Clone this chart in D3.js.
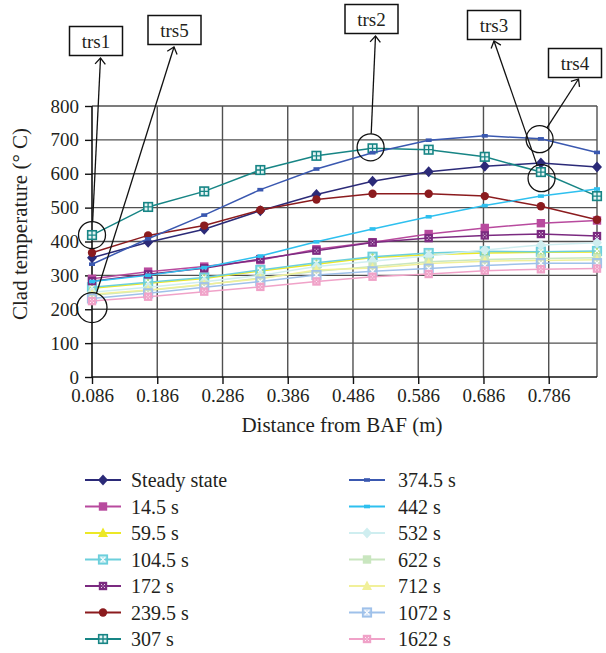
<!DOCTYPE html>
<html>
<head>
<meta charset="utf-8">
<script src="https://cdn.jsdelivr.net/npm/d3@7"></script>
<style>
  body { margin: 0; background: #fff; }
  svg { display: block; }
  text { font-family: "Liberation Serif", "Times New Roman", serif; fill: #231f20; }
</style>
</head>
<body>
<svg id="chart" width="606" height="653"></svg>
<script>
// Axial positions of the cladding nodes (m from the bottom of active fuel)
const distance = [0.086, 0.172, 0.258, 0.344, 0.43, 0.516, 0.602, 0.688, 0.774, 0.86];

// Axis ticks
const xTickValues = [0.086, 0.186, 0.286, 0.386, 0.486, 0.586, 0.686, 0.786];
const yTickValues = [0, 100, 200, 300, 400, 500, 600, 700, 800];

// Series labels (time after transient start)
const seriesLabels = ["Steady state", "14.5 s", "59.5 s", "104.5 s", "172 s", "239.5 s", "307 s",
                      "374.5 s", "442 s", "532 s", "622 s", "712 s", "1072 s", "1622 s"];

// Clad temperature (°C) along the rod for each time
const steadyState = [352, 398, 436, 491, 539, 578, 606, 622, 632, 620];
const t14_5   = [290, 311, 326, 345, 377, 398, 422, 440, 454, 462];
const t59_5   = [262, 277, 291, 313, 333, 353, 361, 366, 368, 369];
const t104_5  = [265, 280, 294, 316, 337, 355, 366, 371, 370, 372];
const t172    = [283, 303, 321, 348, 373, 397, 410, 418, 422, 416];
const t239_5  = [367, 418, 447, 493, 524, 541, 541, 534, 504, 464];
const t307    = [419, 502, 548, 611, 653, 675, 671, 650, 605, 534];
const t374_5  = [333, 408, 478, 553, 614, 662, 699, 712, 703, 663];
const t442    = [282, 300, 323, 357, 399, 437, 473, 506, 534, 555];
const t532    = [250, 265, 281, 300, 326, 342, 358, 375, 390, 396];
const t622    = [241, 255, 272, 292, 312, 326, 340, 347, 350, 352];
const t712    = [244, 257, 273, 290, 316, 322, 335, 342, 344, 346];
const t1072   = [232, 247, 265, 282, 301, 312, 320, 329, 336, 336];
const t1622   = [224, 237, 252, 266, 282, 296, 304, 314, 318, 320];

const seriesValues = [steadyState, t14_5, t59_5, t104_5, t172, t239_5, t307,
                      t374_5, t442, t532, t622, t712, t1072, t1622];

// Callout labels and the points they mark
const calloutLabels = ["trs1", "trs5", "trs2", "trs3", "trs4"];
const calloutX = [0.086, 0.086, 0.513, 0.775, 0.772];
const calloutY = [419, 205, 678, 587, 702];

// ---- presentation ----
const seriesStyles = [
  { color: "#2b2a78", marker: "diamond" },
  { color: "#b84a9e", marker: "square" },
  { color: "#ece826", marker: "triangle" },
  { color: "#6ccfdc", marker: "squareX" },
  { color: "#7b2a80", marker: "squareDots" },
  { color: "#8b1b1e", marker: "circle" },
  { color: "#178585", marker: "squarePlus" },
  { color: "#3a58b0", marker: "dash" },
  { color: "#2ec0ef", marker: "dash" },
  { color: "#cfeef0", marker: "diamond" },
  { color: "#c9e6bf", marker: "square" },
  { color: "#f1f09a", marker: "triangle" },
  { color: "#9fc1ea", marker: "squareX" },
  { color: "#f0a2c8", marker: "squareDots" }
];

const calloutLayout = [
  { box: [96, 41],  tip: [100.5, 58], r: 13.5 },
  { box: [174.5, 30], tip: [174, 47], r: 15 },
  { box: [371.5, 19], tip: [375.5, 36], r: 13.5 },
  { box: [494, 25], tip: [494, 41], r: 13.5 },
  { box: [575, 63], tip: [578.5, 79], r: 13.5 }
];

const svg = d3.select("#chart");
const plot = { left: 92, right: 597, top: 106, bottom: 377 };

const x = d3.scaleLinear().domain([0.086, 0.86]).range([plot.left, plot.right]);
const y = d3.scaleLinear().domain([0, 800]).range([plot.bottom, plot.top]);

// Grid
const grid = svg.append("g").attr("stroke", "#505050").attr("stroke-width", 1.4).attr("fill", "none");
grid.selectAll("line.h").data(yTickValues.filter(v => v > 0)).join("line")
  .attr("x1", plot.left).attr("x2", plot.right)
  .attr("y1", d => y(d)).attr("y2", d => y(d));
grid.selectAll("line.v").data(xTickValues.filter(v => v > 0.086)).join("line")
  .attr("x1", d => x(d)).attr("x2", d => x(d))
  .attr("y1", plot.top).attr("y2", plot.bottom);
grid.append("line").attr("x1", plot.right).attr("x2", plot.right)
  .attr("y1", plot.top).attr("y2", plot.bottom);

// Axes
const yAxis = svg.append("g").attr("transform", `translate(${plot.left},0)`)
  .call(d3.axisLeft(y).tickValues(yTickValues).tickFormat(d3.format("d")).tickSize(7).tickPadding(6));
const xAxis = svg.append("g").attr("transform", `translate(0,${plot.bottom})`)
  .call(d3.axisBottom(x).tickValues(xTickValues).tickFormat(d3.format(".3f")).tickSize(7).tickPadding(5));
[yAxis, xAxis].forEach(a => {
  a.select(".domain").attr("stroke", "#111").attr("stroke-width", 1.6);
  a.selectAll(".tick line").attr("stroke", "#111").attr("stroke-width", 1.4);
  a.selectAll(".tick text").attr("font-size", 19).attr("font-family", "Liberation Serif").attr("fill", "#231f20");
});
xAxis.select(".domain").attr("d", `M${plot.left},0H${plot.right}`);
yAxis.select(".domain").attr("d", `M0,${plot.bottom}V${plot.top}`);

// Axis titles
svg.append("text")
  .attr("transform", `translate(27,224) rotate(-90)`)
  .attr("text-anchor", "middle").attr("font-size", 21)
  .text("Clad temperature (° C)");
svg.append("text")
  .attr("x", 342).attr("y", 432)
  .attr("text-anchor", "middle").attr("font-size", 21)
  .text("Distance from BAF (m)");

// Marker factory
function drawMarker(g, type, color) {
  switch (type) {
    case "diamond":
      g.append("path").attr("d", "M0,-5.5L5,0L0,5.5L-5,0Z").attr("fill", color);
      break;
    case "square":
      g.append("rect").attr("x", -4.2).attr("y", -4.2).attr("width", 8.4).attr("height", 8.4).attr("fill", color);
      break;
    case "triangle":
      g.append("path").attr("d", "M0,-5.5L5,4L-5,4Z").attr("fill", color);
      break;
    case "circle":
      g.append("circle").attr("r", 4.2).attr("fill", color);
      break;
    case "dash":
      g.append("rect").attr("x", -3).attr("y", -1.8).attr("width", 6).attr("height", 3.6).attr("fill", color);
      break;
    case "squareX":
      g.append("rect").attr("x", -4.2).attr("y", -4.2).attr("width", 8.4).attr("height", 8.4)
        .attr("fill", color).attr("fill-opacity", 0.45).attr("stroke", color).attr("stroke-width", 1.8);
      g.append("path").attr("d", "M-2.2,-2.2L2.2,2.2M2.2,-2.2L-2.2,2.2").attr("stroke", "#fff").attr("stroke-width", 1.1);
      break;
    case "squareDots":
      g.append("rect").attr("x", -4.2).attr("y", -4.2).attr("width", 8.4).attr("height", 8.4).attr("fill", color);
      g.append("path").attr("d", "M-2,-2h1v1h-1zM1,-2h1v1h-1zM-2,1h1v1h-1zM1,1h1v1h-1zM-0.5,-0.5h1v1h-1z")
        .attr("fill", "#fff").attr("fill-opacity", 0.8);
      break;
    case "squarePlus":
      g.append("rect").attr("x", -4.3).attr("y", -4.3).attr("width", 8.6).attr("height", 8.6)
        .attr("fill", "#e6f4f4").attr("stroke", color).attr("stroke-width", 1.6);
      g.append("path").attr("d", "M0,-4.3V4.3M-4.3,0H4.3").attr("stroke", color).attr("stroke-width", 1.3);
      break;
  }
}

// Series lines and markers
const line = d3.line().x((d, i) => x(distance[i])).y(d => y(d));
seriesValues.forEach((vals, si) => {
  const st = seriesStyles[si];
  const g = svg.append("g");
  g.append("path").attr("d", line(vals)).attr("fill", "none")
    .attr("stroke", st.color).attr("stroke-width", 1.5);
  g.selectAll("g.pt").data(vals).join("g")
    .attr("transform", (d, i) => `translate(${x(distance[i])},${y(d)})`)
    .each(function () { drawMarker(d3.select(this), st.marker, st.color); });
});

// Callouts: circle around the point, arrow up to a boxed label
const ann = svg.append("g").attr("fill", "none").attr("stroke", "#111").attr("stroke-width", 1.3);
calloutLabels.forEach((lab, i) => {
  const lay = calloutLayout[i];
  const cx = x(calloutX[i]), cy = y(calloutY[i]);
  ann.append("circle").attr("cx", cx).attr("cy", cy).attr("r", lay.r);
  const [tx, ty] = lay.tip;
  const ang = Math.atan2(ty - cy, tx - cx);
  const sx = cx + lay.r * Math.cos(ang), sy = cy + lay.r * Math.sin(ang);
  ann.append("line").attr("x1", sx).attr("y1", sy).attr("x2", tx).attr("y2", ty);
  const back = ang + Math.PI, arm = 8, spread = 0.7;
  ann.append("path").attr("d",
    `M${tx + arm * Math.cos(back - spread)},${ty + arm * Math.sin(back - spread)}L${tx},${ty}L${tx + arm * Math.cos(back + spread)},${ty + arm * Math.sin(back + spread)}`);
  const [bx, by] = lay.box;
  ann.append("rect").attr("x", bx - 26.5).attr("y", by - 14.5).attr("width", 53).attr("height", 29)
    .attr("fill", "#fff").attr("stroke-width", 1.5);
  svg.append("text").attr("x", bx).attr("y", by + 6.5).attr("text-anchor", "middle")
    .attr("font-size", 19).text(lab);
});

// Legend in two columns
const legendCols = [{ lx: 85, mx: 103, tx: 131 }, { lx: 349, mx: 367, tx: 398 }];
seriesLabels.forEach((lab, i) => {
  const col = legendCols[Math.floor(i / 7)];
  const row = i % 7;
  const cy = 480 + row * 26.5;
  const st = seriesStyles[i];
  const g = svg.append("g");
  g.append("line").attr("x1", col.lx).attr("x2", col.lx + 36).attr("y1", cy).attr("y2", cy)
    .attr("stroke", st.color).attr("stroke-width", 1.8);
  drawMarker(g.append("g").attr("transform", `translate(${col.mx},${cy})`), st.marker, st.color);
  g.append("text").attr("x", col.tx).attr("y", cy + 7).attr("font-size", 20).text(lab);
});
</script>
</body>
</html>
